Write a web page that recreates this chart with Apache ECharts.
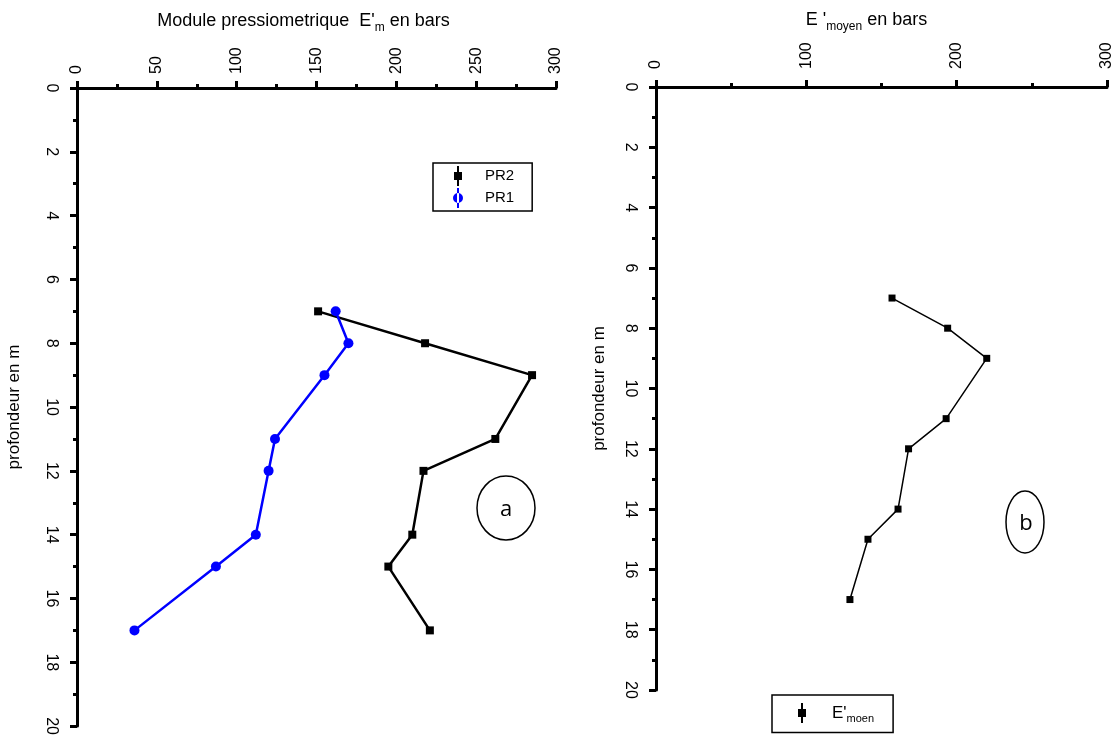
<!DOCTYPE html>
<html>
<head>
<meta charset="utf-8">
<script src="https://cdn.jsdelivr.net/npm/echarts@6/dist/echarts.min.js"></script>
<style>
html,body{margin:0;padding:0;background:#fff;}
#chart{width:1115px;height:738px;}
</style>
</head>
<body>
<div id="chart"></div>
<script>
// ---- data ----
const depths = [7, 8, 9, 11, 12, 14, 15, 17];
const pr2 = [151, 218, 285, 262, 217, 210, 195, 221];
const pr1 = [162, 170, 155, 124, 120, 112, 87, 36];
const eMoyen = [157, 194, 220, 193, 168, 161, 141, 129];
const seriesNames = ['PR2', 'PR1', "E'moen"];
const panelLabels = ['a', 'b'];
const depthRange = [0, 20];
const moduleRange = [0, 300];

const FONT = 'Liberation Sans, Arial, sans-serif';
const chart = echarts.init(document.getElementById('chart'));

const axisLineStyle = { show: true, onZero: false, lineStyle: { color: '#000', width: 3 } };
const tickStyle = { show: true, length: 7, lineStyle: { color: '#000', width: 3 } };
const minorStyle = { show: true, splitNumber: 2, length: 4, lineStyle: { color: '#000', width: 3 } };
const labelBase = { color: '#000', fontSize: 16, fontFamily: FONT, rotate: -90 };
const nameRich = {
  t: { fontSize: 18, fontFamily: FONT, color: '#000' },
  s: { fontSize: 12, fontFamily: FONT, color: '#000', padding: [14, 0, 0, 0] }
};

const legendIconSquare = 'path://M4,0h2v20h-2zM1,6h8v8h-8z';
const legendIconCircle = 'path://M4,0h2v20h-2zM0,10a5,5 0 1,0 10,0a5,5 0 1,0 -10,0z';

const option = {
  animation: false,
  backgroundColor: '#fff',
  grid: [
    { left: 77, top: 88, width: 479, height: 642 },
    { left: 656, top: 87, width: 451, height: 603 }
  ],
  xAxis: [
    {
      gridIndex: 0, type: 'value', position: 'top',
      min: moduleRange[0], max: moduleRange[1], interval: 50,
      axisLine: axisLineStyle, axisTick: tickStyle, minorTick: minorStyle,
      splitLine: { show: false }, minorSplitLine: { show: false },
      axisLabel: Object.assign({}, labelBase, { margin: 14 }),
      name: "{t|Module pressiometrique  E'}{s|m}{t| en bars}",
      nameLocation: 'middle', nameGap: 54,
      nameTextStyle: { color: '#000', fontFamily: FONT, padding: [0, 26, 0, 0], rich: nameRich }
    },
    {
      gridIndex: 1, type: 'value', position: 'top',
      min: moduleRange[0], max: moduleRange[1], interval: 100,
      axisLine: axisLineStyle, axisTick: tickStyle, minorTick: minorStyle,
      splitLine: { show: false }, minorSplitLine: { show: false },
      axisLabel: Object.assign({}, labelBase, { margin: 18 }),
      name: "{t|E '}{s|moyen}{t| en bars}",
      nameLocation: 'middle', nameGap: 54,
      nameTextStyle: { color: '#000', fontFamily: FONT, padding: [0, 30, 0, 0], rich: nameRich }
    }
  ],
  yAxis: [
    {
      gridIndex: 0, type: 'value', inverse: true,
      min: depthRange[0], max: depthRange[1], interval: 2,
      axisLine: axisLineStyle, axisTick: tickStyle, minorTick: minorStyle,
      splitLine: { show: false }, minorSplitLine: { show: false },
      axisLabel: Object.assign({}, labelBase, { margin: 18 }),
      name: 'profondeur en m', nameLocation: 'middle', nameGap: 54, nameRotate: 90,
      nameTextStyle: { color: '#000', fontSize: 17, fontFamily: FONT }
    },
    {
      gridIndex: 1, type: 'value', inverse: true,
      min: depthRange[0], max: depthRange[1], interval: 2,
      axisLine: axisLineStyle, axisTick: tickStyle, minorTick: minorStyle,
      splitLine: { show: false }, minorSplitLine: { show: false },
      axisLabel: Object.assign({}, labelBase, { margin: 18 }),
      name: 'profondeur en m', nameLocation: 'middle', nameGap: 48, nameRotate: 90,
      nameTextStyle: { color: '#000', fontSize: 17, fontFamily: FONT }
    }
  ],
  legend: [
    {
      data: [
        { name: seriesNames[0], icon: legendIconSquare },
        { name: seriesNames[1], icon: legendIconCircle }
      ],
      orient: 'vertical', left: 433, top: 163,
      itemWidth: 10, itemHeight: 20, itemGap: 2,
      padding: [3, 18, 3, 20],
      borderColor: '#000', borderWidth: 1.5,
      textStyle: { color: '#000', fontSize: 15, fontFamily: FONT, padding: [0, 0, 0, 17] }
    },
    {
      data: [{ name: seriesNames[2], icon: legendIconSquare }],
      orient: 'horizontal', left: 772, top: 695,
      itemWidth: 10, itemHeight: 20,
      padding: [8, 19, 8, 26],
      borderColor: '#000', borderWidth: 1.5,
      formatter: function () { return "{a|E'}{b|moen}"; },
      textStyle: {
        color: '#000', fontFamily: FONT, padding: [0, 0, 0, 20],
        rich: {
          a: { fontSize: 17, fontFamily: FONT, color: '#000' },
          b: { fontSize: 11, fontFamily: FONT, color: '#000', padding: [12, 0, 0, 0] }
        }
      }
    }
  ],
  graphic: [
    { type: 'ellipse', shape: { cx: 506, cy: 508, rx: 29, ry: 32 },
      style: { fill: 'none', stroke: '#000', lineWidth: 1.5 } },
    { type: 'text', x: 506, y: 510,
      style: { text: panelLabels[0], align: 'center', verticalAlign: 'middle', fontSize: 22, fontFamily: 'Open Sans, sans-serif', fill: '#000' } },
    { type: 'ellipse', shape: { cx: 1025, cy: 522, rx: 19, ry: 31 },
      style: { fill: 'none', stroke: '#000', lineWidth: 1.5 } },
    { type: 'text', x: 1026, y: 524,
      style: { text: panelLabels[1], align: 'center', verticalAlign: 'middle', fontSize: 22, fontFamily: 'Open Sans, sans-serif', fill: '#000' } }
  ],
  series: [
    {
      name: seriesNames[0], type: 'line', xAxisIndex: 0, yAxisIndex: 0,
      data: depths.map((d, i) => [pr2[i], d]),
      symbol: 'rect', symbolSize: 8,
      lineStyle: { color: '#000', width: 2.5 },
      itemStyle: { color: '#000' }
    },
    {
      name: seriesNames[1], type: 'line', xAxisIndex: 0, yAxisIndex: 0,
      data: depths.map((d, i) => [pr1[i], d]),
      symbol: 'circle', symbolSize: 10,
      lineStyle: { color: '#0000ff', width: 2.5 },
      itemStyle: { color: '#0000ff' }
    },
    {
      name: seriesNames[2], type: 'line', xAxisIndex: 1, yAxisIndex: 1,
      data: depths.map((d, i) => [eMoyen[i], d]),
      symbol: 'rect', symbolSize: 7,
      lineStyle: { color: '#000', width: 1.5 },
      itemStyle: { color: '#000' }
    }
  ]
};
chart.setOption(option);
</script>
</body>
</html>
